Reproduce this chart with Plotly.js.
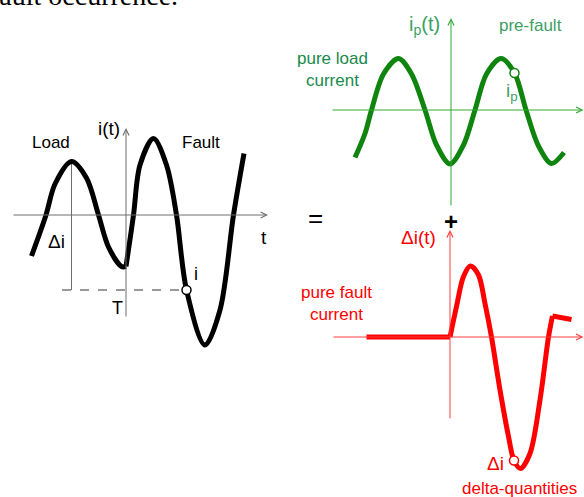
<!DOCTYPE html>
<html>
<head>
<meta charset="utf-8">
<script src="https://cdn.plot.ly/plotly-3.0.1.min.js"></script>
<style>
  html, body { margin: 0; padding: 0; background: #fff; }
  #chart { width: 584px; height: 497px; }
</style>
</head>
<body>
<div id="chart"></div>
<script>
// Superposition sketch: measured current = pre-fault load current + delta (fault) current
// time in ms, current in p.u. (values read off the drawing)

// measured current i(t): load part before the fault, fault part after t = 0
const loadT  = [-18.9, -16.0, -14.2, -10.9, -7.9, -5.5, -3.5, -0.9, 0];
const loadI  = [-0.82, 0, 0.62, 1.07, 0.74, 0, -0.64, -1.03, -1.03];
const faultT = [0, 1.5, 2.8, 5.5, 8.1, 10.1, 12.1, 15.8, 18.8, 21.5, 23.6];
const faultI = [-1.03, 0, 1.0, 1.53, 1.0, 0, -1.5, -2.6, -1.9, 0, 1.23];

// pure load current ip(t)
const preT = [-19.2, -17.2, -15.9, -13.5, -10.5, -7.9, -5.2, -2.9, -0.2, 2.5, 4.8, 7.1, 10.0, 12.7, 15.0, 17.5, 20.1, 22.6];
const preI = [-0.95, -0.47, 0, 0.72, 1.03, 0.72, 0, -0.7, -1.08, -0.7, 0, 0.72, 1.03, 0.74, 0, -0.72, -1.07, -0.85];

// pure fault current delta i(t)
const deltaFlatT = [-16.7, 0];
const deltaFlatI = [0, 0];
const deltaT = [0, 1.3, 2.7, 4.1, 5.7, 7.0, 8.3, 10.0, 11.7, 12.8, 14.1, 16.0, 18.0, 19.7, 20.5];
const deltaI = [0, 0.61, 1.21, 1.42, 1.24, 0.67, 0, -1.06, -1.99, -2.47, -2.63, -2.33, -1.26, 0, 0.42];
const deltaTailT = [20.5, 24.3];
const deltaTailI = [0.42, 0.35];

// sample points (open circles)
const sampleT = [12.1];      const sampleI = [-1.5];
const preSampleT = [12.7];   const preSampleI = [0.74];
const deltaSampleT = [12.8]; const deltaSampleI = [-2.47];

// construction lines on the left panel
const dashStartT = -12.8;

const COLORS = {
    black:     '#000000',
    axisGray:  '#6e6e6e',
    green:     '#0f840f',
    greenAxis: '#33a833',
    greenText: '#1a8a4c',
    greenLite: '#3d9f62',
    red:       '#ff0000',
    redAxis:   '#ff3c3c',
};

const W = 584, H = 497;
const PX_PER_MS = 5, PX_PER_PU = 50;
const FONT = 'Liberation Sans, Arial, sans-serif';

// box = [left, right, top, bottom] in px, origin = [x, y] in px
function panelAxes(box, origin) {
    const [x0, x1, y0, y1] = box;
    return {
        x: { domain: [x0 / W, x1 / W], range: [(x0 - origin[0]) / PX_PER_MS, (x1 - origin[0]) / PX_PER_MS],
             visible: false, fixedrange: true },
        y: { domain: [1 - y1 / H, 1 - y0 / H], range: [(origin[1] - y1) / PX_PER_PU, (origin[1] - y0) / PX_PER_PU],
             visible: false, fixedrange: true },
    };
}

const left  = panelAxes([0, 290, 100, 380], [126, 215]);
const green = panelAxes([290, 584, 0, 215], [451, 110]);
const red   = panelAxes([290, 584, 215, 497], [450, 337]);

function line(x, y, xa, ya, color, width, shape, dash) {
    return { x, y, xaxis: xa, yaxis: ya, type: 'scatter', mode: 'lines', hoverinfo: 'skip',
             line: { color, width, shape: shape || 'linear', smoothing: 0.9, dash: dash || 'solid' } };
}

function circle(x, y, xa, ya, color) {
    return { x, y, xaxis: xa, yaxis: ya, type: 'scatter', mode: 'markers', hoverinfo: 'skip', cliponaxis: false,
             marker: { symbol: 'circle', size: 9, color: '#ffffff', line: { color, width: 1.5 } } };
}

function arrow(xref, yref, tail, tip, color) {
    return { xref, yref, axref: xref, ayref: yref, x: tip[0], y: tip[1], ax: tail[0], ay: tail[1],
             text: '', showarrow: true, arrowhead: 5, arrowsize: 1.2, arrowwidth: 1, arrowcolor: color, standoff: 0 };
}

function label(xref, yref, x, y, text, color, size) {
    return { xref, yref, x, y, text, showarrow: false, xanchor: 'center', yanchor: 'middle',
             font: { family: FONT, size, color } };
}

const tPeak = loadT[3], iPeak = loadI[3];

const traces = [
    // construction: delta-i drop from the pre-fault peak and the level of the sample
    line([tPeak, tPeak], [iPeak, sampleI[0]], 'x', 'y', COLORS.axisGray, 1),
    line([dashStartT, sampleT[0]], [sampleI[0], sampleI[0]], 'x', 'y', '#333333', 1, 'linear', 'dash'),
    line(loadT, loadI, 'x', 'y', COLORS.black, 5, 'spline'),
    line(faultT, faultI, 'x', 'y', COLORS.black, 5, 'spline'),
    circle(sampleT, sampleI, 'x', 'y', COLORS.black),

    line(preT, preI, 'x2', 'y2', COLORS.green, 5, 'spline'),
    circle(preSampleT, preSampleI, 'x2', 'y2', COLORS.green),

    line(deltaFlatT, deltaFlatI, 'x3', 'y3', COLORS.red, 5),
    line(deltaT, deltaI, 'x3', 'y3', COLORS.red, 5, 'spline'),
    line(deltaTailT, deltaTailI, 'x3', 'y3', COLORS.red, 5),
    circle(deltaSampleT, deltaSampleI, 'x3', 'y3', COLORS.red),
];

const annotations = [
    // axes
    arrow('x', 'y', [-22.8, 0], [28.4, 0], COLORS.axisGray),
    arrow('x', 'y', [0, -2.06], [0, 1.74], COLORS.axisGray),
    arrow('x2', 'y2', [-24, 0], [26.5, 0], COLORS.greenAxis),
    arrow('x2', 'y2', [0, -1.94], [0, 1.84], COLORS.greenAxis),
    arrow('x3', 'y3', [-23.6, 0], [26.7, 0], COLORS.redAxis),
    arrow('x3', 'y3', [0, -1.66], [0, 2.14], COLORS.redAxis),

    // left panel text
    label('x', 'y', -15, 1.46, 'Load', COLORS.black, 17),
    label('x', 'y', 15, 1.46, 'Fault', COLORS.black, 17),
    label('x', 'y', -3.4, 1.74, 'i(t)', COLORS.black, 19),
    label('x', 'y', 27.6, -0.44, 't', COLORS.black, 19),
    label('x', 'y', -14, -0.52, '\u0394i', COLORS.black, 19),
    label('x', 'y', 14, -1.18, 'i', COLORS.black, 18),
    label('x', 'y', -1.8, -1.86, 'T', COLORS.black, 18),

    // green panel text
    label('x2', 'y2', -5.4, 1.7, 'i<sub>p</sub>(t)', COLORS.greenLite, 20),
    label('x2', 'y2', 15.9, 1.7, 'pre-fault', COLORS.greenLite, 17),
    label('x2', 'y2', -23.8, 0.82, 'pure load<br>current', COLORS.greenText, 17),
    label('x2', 'y2', 12.2, 0.36, 'i<sub>p</sub>', COLORS.greenLite, 19),

    // red panel text
    label('x3', 'y3', -6.3, 2.0, '\u0394i(t)', COLORS.red, 19),
    label('x3', 'y3', -22.8, 0.68, 'pure fault<br>current', COLORS.red, 17),
    label('x3', 'y3', 9, -2.52, '\u0394i', COLORS.red, 19),
    label('x3', 'y3', 13.9, -3.02, 'delta-quantities', COLORS.red, 17),

    // operators and the clipped caption line at the top
    label('paper', 'paper', 315 / W, 1 - 218 / H, '=', COLORS.black, 26),
    label('paper', 'paper', 451 / W, 1 - 221 / H, '<b>+</b>', COLORS.black, 24),
    { xref: 'paper', yref: 'paper', x: 180 / W, y: 1 + 4.4 / H, xanchor: 'right', yanchor: 'middle',
      text: 'fault occurrence.', showarrow: false,
      font: { family: 'Liberation Serif, Times New Roman, serif', size: 28, color: COLORS.black } },
];

const layout = {
    width: W, height: H,
    margin: { t: 0, r: 0, b: 0, l: 0 },
    paper_bgcolor: '#ffffff',
    plot_bgcolor: 'rgba(0,0,0,0)',
    showlegend: false,
    xaxis: left.x,  yaxis: left.y,
    xaxis2: green.x, yaxis2: { ...green.y },
    xaxis3: red.x,  yaxis3: { ...red.y },
    annotations,
};
layout.yaxis2.anchor = 'x2';
layout.xaxis2.anchor = 'y2';
layout.yaxis3.anchor = 'x3';
layout.xaxis3.anchor = 'y3';

Plotly.newPlot('chart', traces, layout, { displayModeBar: false, staticPlot: true });
</script>
</body>
</html>
